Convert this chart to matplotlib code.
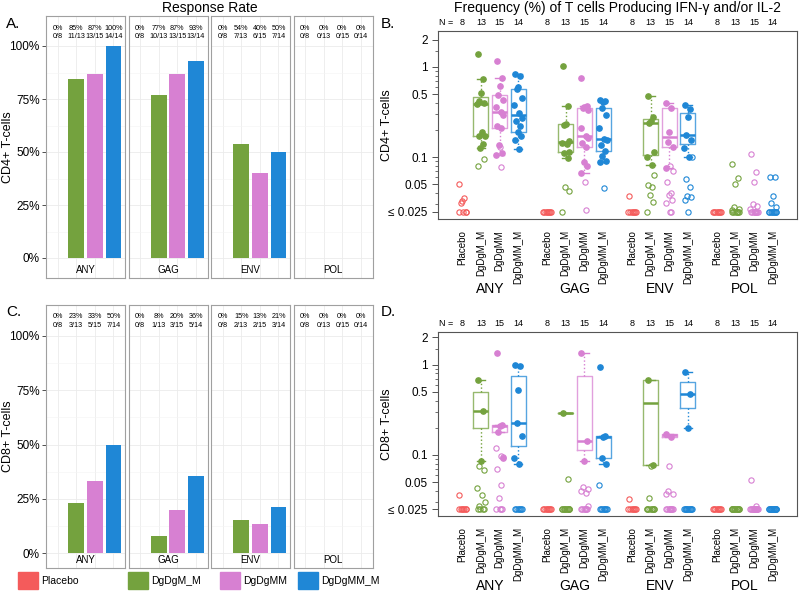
import math
import matplotlib.pyplot as plt
from matplotlib.patches import Rectangle
from matplotlib.ticker import FixedLocator, NullFormatter

plt.rcParams['font.family'] = ['Liberation Sans', 'DejaVu Sans']

W, H = 800, 593

groups = ['Placebo', 'DgDgM_M', 'DgDgMM', 'DgDgMM_M']
antigens = ['ANY', 'GAG', 'ENV', 'POL']
group_n = [8, 13, 15, 14]
colors = ['#F45B5B', '#74A23E', '#D780D2', '#1F87D6']

# responders per antigen (rows) and group (columns)
cd4_responders = [[0, 11, 13, 14], [0, 10, 13, 13], [0, 7, 6, 7], [0, 0, 0, 0]]
cd8_responders = [[0, 3, 5, 7], [0, 1, 3, 5], [0, 2, 2, 3], [0, 0, 0, 0]]

# frequencies, responders (filled) and non-responders (open); <= 0.025 shown at 0.025
cd4_any_on = [[], [1.39, 0.74, 0.52, 0.42, 0.40, 0.39, 0.19, 0.17, 0.17, 0.14, 0.127],
              [1.17, 0.76, 0.62, 0.49, 0.43, 0.36, 0.32, 0.29, 0.22, 0.21, 0.137, 0.11, 0.106],
              [0.84, 0.80, 0.60, 0.57, 0.45, 0.38, 0.31, 0.27, 0.25, 0.22, 0.19, 0.17, 0.155, 0.124]]
cd4_any_off = [[0.051, 0.035, 0.033, 0.031, 0.025, 0.025, 0.025, 0.025], [0.096, 0.079], [0.13, 0.078], []]
cd4_gag_on = [[], [1.03, 0.37, 0.235, 0.225, 0.15, 0.145, 0.14, 0.115, 0.112, 0.097],
              [0.75, 0.37, 0.36, 0.35, 0.33, 0.21, 0.17, 0.164, 0.144, 0.13, 0.089, 0.079, 0.067],
              [0.43, 0.42, 0.41, 0.35, 0.29, 0.21, 0.16, 0.155, 0.137, 0.116, 0.104, 0.092, 0.088]]
cd4_gag_off = [[0.025, 0.025, 0.025, 0.025, 0.025, 0.025, 0.025, 0.025], [0.047, 0.042, 0.025],
               [0.053, 0.026], [0.046]]
cd4_env_on = [[], [0.48, 0.28, 0.25, 0.24, 0.113, 0.10, 0.081], [0.40, 0.35, 0.19, 0.146, 0.13, 0.076],
              [0.38, 0.34, 0.28, 0.177, 0.155, 0.125, 0.10]]
cd4_env_off = [[0.037, 0.025, 0.025, 0.025, 0.025, 0.025, 0.025, 0.025],
               [0.064, 0.049, 0.047, 0.038, 0.032, 0.025],
               [0.08, 0.07, 0.053, 0.04, 0.038, 0.034, 0.031, 0.025, 0.025],
               [0.10, 0.057, 0.047, 0.037, 0.036, 0.034, 0.025]]
cd4_pol_on = [[], [], [], []]
cd4_pol_off = [[0.025, 0.025, 0.025, 0.025, 0.025, 0.025, 0.025, 0.025],
               [0.085, 0.059, 0.051, 0.028, 0.027, 0.026, 0.025, 0.025, 0.025, 0.025, 0.025, 0.025, 0.025],
               [0.108, 0.068, 0.053, 0.03, 0.029, 0.027, 0.025, 0.025, 0.025, 0.025, 0.025, 0.025, 0.025,
                0.025, 0.025],
               [0.061, 0.061, 0.037, 0.031, 0.028, 0.025, 0.025, 0.025, 0.025, 0.025, 0.025, 0.025, 0.025,
                0.025]]

cd8_any_on = [[], [0.68, 0.31, 0.086], [1.35, 0.216, 0.21, 0.18, 0.092],
              [1.0, 0.97, 0.53, 0.227, 0.16, 0.093, 0.08]]
cd8_any_off = [[0.036, 0.025, 0.025, 0.025, 0.025, 0.025, 0.025, 0.025],
               [0.075, 0.068, 0.043, 0.036, 0.03, 0.027, 0.025, 0.025, 0.025, 0.025],
               [0.118, 0.097, 0.095, 0.069, 0.046, 0.033, 0.025, 0.025, 0.025, 0.025],
               [0.025, 0.025, 0.025, 0.025, 0.025, 0.025, 0.025]]
cd8_gag_on = [[], [0.29], [1.35, 0.143, 0.085], [0.93, 0.162, 0.156, 0.093, 0.079]]
cd8_gag_off = [[0.025, 0.025, 0.025, 0.025, 0.025, 0.025, 0.025, 0.025],
               [0.054, 0.025, 0.025, 0.025, 0.025, 0.025, 0.025, 0.025, 0.025, 0.025, 0.025, 0.025],
               [0.044, 0.042, 0.04, 0.038, 0.027, 0.025, 0.025, 0.025, 0.025, 0.025, 0.025, 0.025],
               [0.046, 0.025, 0.025, 0.025, 0.025, 0.025, 0.025, 0.025, 0.025]]
cd8_env_on = [[], [0.68, 0.077], [0.172, 0.158], [0.82, 0.467, 0.2]]
cd8_env_off = [[0.032, 0.025, 0.025, 0.025, 0.025, 0.025, 0.025, 0.025],
               [0.075, 0.033, 0.025, 0.025, 0.025, 0.025, 0.025, 0.025, 0.025, 0.025, 0.025],
               [0.075, 0.04, 0.037, 0.037, 0.025, 0.025, 0.025, 0.025, 0.025, 0.025, 0.025, 0.025, 0.025],
               [0.025, 0.025, 0.025, 0.025, 0.025, 0.025, 0.025, 0.025, 0.025, 0.025, 0.025]]
cd8_pol_on = [[], [], [], []]
cd8_pol_off = [[0.025, 0.025, 0.025, 0.025, 0.025, 0.025, 0.025, 0.025],
               [0.025, 0.025, 0.025, 0.025, 0.025, 0.025, 0.025, 0.025, 0.025, 0.025, 0.025, 0.025, 0.025],
               [0.053, 0.027, 0.025, 0.025, 0.025, 0.025, 0.025, 0.025, 0.025, 0.025, 0.025, 0.025, 0.025,
                0.025, 0.025],
               [0.025, 0.025, 0.025, 0.025, 0.025, 0.025, 0.025, 0.025, 0.025, 0.025, 0.025, 0.025, 0.025,
                0.025]]

freq_ticks = [0.025, 0.05, 0.1, 0.5, 1, 2]
freq_ticklabels = ['\u2264 0.025', '0.05', '0.1', '0.5', '1', '2']
freq_minor = [0.03, 0.04, 0.06, 0.07, 0.08, 0.09, 0.2, 0.3, 0.4, 0.6, 0.7, 0.8, 0.9, 1.5]

jitter = [-0.16, 0.12, 0.0, -0.08, 0.18, -0.2, 0.06, 0.2, -0.12, 0.1, -0.03, 0.15, -0.18, 0.03, 0.08]


def fig_rect(left, top, right, bottom):
    return [left / W, 1 - bottom / H, (right - left) / W, (bottom - top) / H]


def fivenum_box(vals):
    # Tukey hinges and 1.5*IQR whiskers, like R's boxplot
    v = sorted(vals)
    n = len(v)
    n4 = math.floor((n + 3) / 2) / 2
    d = [1, n4, (n + 1) / 2, n + 1 - n4, n]
    q = [0.5 * (v[math.floor(x) - 1] + v[math.ceil(x) - 1]) for x in d]
    iqr = q[3] - q[1]
    hi = max(x for x in v if x <= q[3] + 1.5 * iqr)
    lo = min(x for x in v if x >= q[1] - 1.5 * iqr)
    return dict(med=q[2], q1=q[1], q3=q[3], whislo=lo, whishi=hi, fliers=[])


def draw_rates(top, y100, y0, bottom, responders, ylabel):
    unit = y0 - y100
    lefts = [46, 128.5, 211, 293.5]
    for k, ag in enumerate(antigens):
        ax = fig.add_axes(fig_rect(lefts[k], top, lefts[k] + 79, bottom))
        rates = [r / n for r, n in zip(responders[k], group_n)]
        ax.bar(range(4), rates, width=0.85, color=colors, zorder=2)
        ax.set_xlim(-0.62, 3.62)
        ax.set_ylim((y0 - bottom) / unit, (y0 - top) / unit)
        ax.set_xticks(range(4))
        ax.set_yticks([0, 0.25, 0.5, 0.75, 1.0])
        ax.set_yticks([0.125, 0.375, 0.625, 0.875], minor=True)
        ax.grid(True, which='major', color='#EBEBEB', lw=0.6, zorder=0)
        ax.grid(True, which='minor', axis='y', color='#F4F4F4', lw=0.4, zorder=0)
        ax.tick_params(axis='x', length=0, labelbottom=False)
        ax.tick_params(axis='y', which='minor', length=0)
        if k == 0:
            ax.set_yticklabels(['0%', '25%', '50%', '75%', '100%'], fontsize=8.5)
            ax.tick_params(axis='y', length=3, width=0.6, color='#333333', pad=1.5)
        else:
            ax.tick_params(axis='y', length=0, labelleft=False)
        for s in ax.spines.values():
            s.set_color('#A0A0A0')
            s.set_linewidth(0.8)
        for i in range(4):
            pct = round(100 * responders[k][i] / group_n[i])
            ax.text(i, (y0 - (top + 12)) / unit, f'{pct}%', ha='center', va='center', fontsize=5.2)
            ax.text(i, (y0 - (top + 21)) / unit, f'{responders[k][i]}/{group_n[i]}', ha='center',
                    va='center', fontsize=5.2)
        ax.text(1.5, (y0 - (bottom - 8)) / unit, ag, ha='center', va='center', fontsize=7)
    fig.text(8 / W, 1 - (top + bottom) / 2 / H, ylabel, rotation=90, ha='center', va='center', fontsize=9)


def draw_freq(top, bottom, ylim, on_lists, off_lists, ylabel):
    ax = fig.add_axes(fig_rect(438, top, 797, bottom))
    ax.set_yscale('log')
    height = bottom - top
    positions = []
    for g in range(4):
        for i in range(4):
            x = g * 4.55 + i
            positions.append(x)
            c = colors[i]
            on = on_lists[g][i]
            off = off_lists[g][i]
            if on:
                ax.bxp([fivenum_box(on)], positions=[x], widths=0.8, showfliers=False,
                       boxprops=dict(color=c, lw=1, alpha=0.75),
                       medianprops=dict(color=c, lw=1.8),
                       whiskerprops=dict(color=c, lw=1, ls=':'),
                       capprops=dict(color=c, lw=1), capwidths=[0.45], manage_ticks=False)
            xs = [x + jitter[j % len(jitter)] for j in range(len(on))]
            ax.plot(xs, on, 'o', ms=3.8, color=c, zorder=3)
            xs = [x + jitter[(j + len(on)) % len(jitter)] for j in range(len(off))]
            ax.plot(xs, off, 'o', ms=3.8, mfc='none', mec=c, mew=0.8, zorder=3)
        ax.text(g * 4.55 + 1.5, -70 / height, antigens[g], transform=ax.get_xaxis_transform(),
                ha='center', va='center', fontsize=10)
    tr = ax.get_xaxis_transform()
    ax.text(-0.85, 1 + 4 / height, 'N =', transform=tr, ha='center', va='bottom', fontsize=6.5)
    for j, x in enumerate(positions):
        ax.text(x, 1 + 4 / height, str(group_n[j % 4]), transform=tr, ha='center', va='bottom', fontsize=6.5)
    ax.set_xlim(-1.3, 17.95)
    ax.set_ylim(*ylim)
    ax.set_xticks(positions)
    ax.set_xticklabels(groups * 4, rotation=90, fontsize=7)
    ax.tick_params(axis='x', length=0, pad=8)
    ax.yaxis.set_major_locator(FixedLocator(freq_ticks))
    ax.set_yticklabels(freq_ticklabels, fontsize=8.5)
    ax.yaxis.set_minor_locator(FixedLocator(freq_minor))
    ax.yaxis.set_minor_formatter(NullFormatter())
    ax.tick_params(axis='y', which='major', length=4, width=0.6, color='#333333')
    ax.tick_params(axis='y', which='minor', length=2, width=0.5, color='#333333')
    for s in ax.spines.values():
        s.set_color('#555555')
        s.set_linewidth(0.8)
    fig.text(387 / W, 1 - (top + bottom) / 2 / H, ylabel, rotation=90, ha='center', va='center', fontsize=9)


fig = plt.figure(figsize=(W / 100, H / 100), dpi=100)

# legend drawn in a pixel-space overlay
leg = fig.add_axes([0, 0, 1, 1])
leg.set_xlim(0, W)
leg.set_ylim(H, 0)
leg.axis('off')
for x, name, c in zip([18, 128, 220, 298], groups, colors):
    leg.add_patch(Rectangle((x, 572), 20, 17, color=c))
    leg.text(x + 23, 580.5, name, ha='left', va='center', fontsize=7.5)

draw_rates(16, 46, 258, 278, cd4_responders, 'CD4+ T-cells')
draw_rates(305, 336, 553, 568, cd8_responders, 'CD8+ T-cells')
draw_freq(31, 219, (0.0207, 2.5), [cd4_any_on, cd4_gag_on, cd4_env_on, cd4_pol_on],
          [cd4_any_off, cd4_gag_off, cd4_env_off, cd4_pol_off], 'CD4+ T-cells')
draw_freq(332, 516, (0.021, 2.3), [cd8_any_on, cd8_gag_on, cd8_env_on, cd8_pol_on],
          [cd8_any_off, cd8_gag_off, cd8_env_off, cd8_pol_off], 'CD8+ T-cells')

fig.text(210 / W, 1 - 8 / H, 'Response Rate', ha='center', va='center', fontsize=10)
fig.text(617 / W, 1 - 8 / H, 'Frequency (%) of T cells Producing IFN-\u03b3 and/or IL-2',
         ha='center', va='center', fontsize=10)
for label, x, y in [('A.', 6, 24), ('B.', 381, 24), ('C.', 6, 312), ('D.', 381, 312)]:
    fig.text(x / W, 1 - y / H, label, ha='left', va='center', fontsize=11)

fig.savefig('out.png', dpi=100)
